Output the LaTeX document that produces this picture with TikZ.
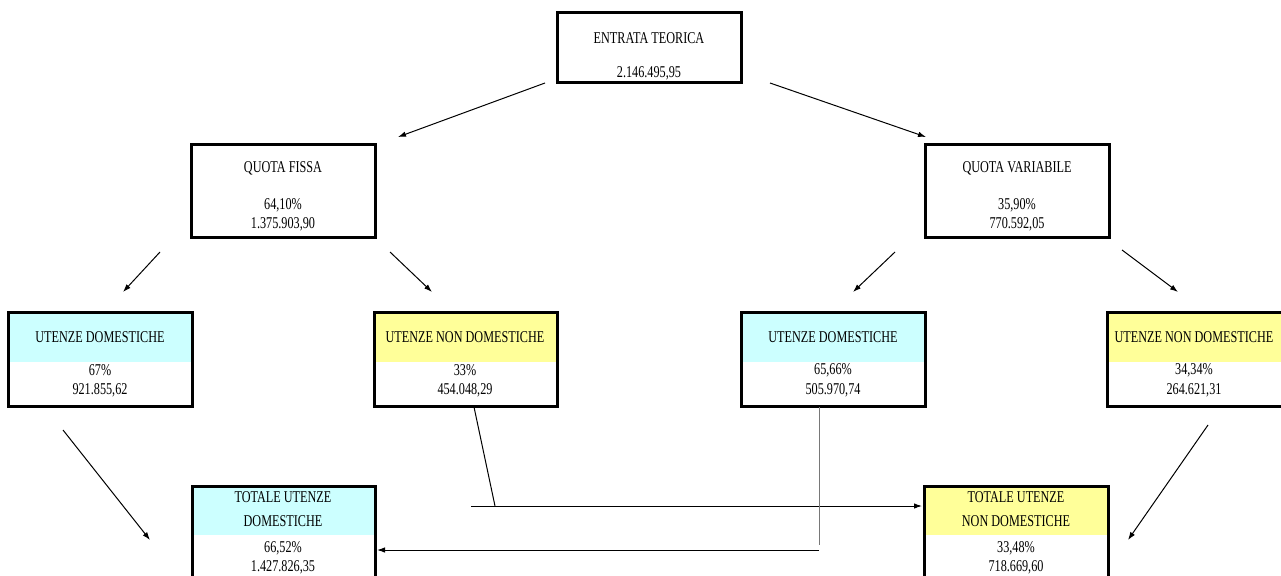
\documentclass[tikz,border=0pt]{standalone}
\usepackage{fontspec}
\setmainfont[FakeStretch=0.74]{Liberation Serif}
\usetikzlibrary{arrows.meta}
\definecolor{cyanbox}{RGB}{204,255,255}
\definecolor{yellowbox}{RGB}{255,255,153}
\definecolor{linegray}{RGB}{120,120,120}
\begin{document}
\begin{tikzpicture}[x=1pt,y=-1pt,
  boxframe/.style={draw=black,line width=3pt,fill=none},
  lbl/.style={inner sep=0pt,font=\fontsize{16.5}{18}\selectfont,anchor=center},
  conn/.style={line width=1pt,-{Latex[length=8pt,width=5.5pt]}},
  plain/.style={line width=1pt}]
\useasboundingbox (0,0) rectangle (1281,575);
\clip (0,0) rectangle (1281,575);
% fills
\fill[cyanbox] (8,312) rectangle (192,362);
\fill[yellowbox] (374,312) rectangle (557,362);
\fill[cyanbox] (741,312) rectangle (925,362);
\fill[yellowbox] (1107,312) rectangle (1295,362);
\fill[cyanbox] (192,486) rectangle (375,535);
\fill[yellowbox] (924,486) rectangle (1108,535);
% frames
\draw[boxframe] (557,13) rectangle (741,83);
\node[inner sep=0pt] (E) at (649,48) {};
\draw[boxframe] (191,144) rectangle (375,237);
\node[inner sep=0pt] (QF) at (283,190) {};
\draw[boxframe] (925,144) rectangle (1109,237);
\node[inner sep=0pt] (QV) at (1017,190) {};
\draw[boxframe] (8,312) rectangle (192,406);
\node[inner sep=0pt] (UD1) at (100,359) {};
\draw[boxframe] (374,312) rectangle (557,406);
\node[inner sep=0pt] (UND1) at (465,359) {};
\draw[boxframe] (741,312) rectangle (925,406);
\node[inner sep=0pt] (UD2) at (833,359) {};
\draw[boxframe] (1107,312) rectangle (1300,406);
\node[inner sep=0pt] (UND2) at (1194,359) {};
\draw[boxframe] (192,486) rectangle (375,600);
\node[inner sep=0pt] (TUD) at (283,530) {};
\draw[boxframe] (924,486) rectangle (1108,600);
\node[inner sep=0pt] (TUND) at (1016,530) {};
% texts
\node[lbl] (e1) at (649,38) {ENTRATA TEORICA};
\node[lbl] (e2) at (649,73) {2.146.495,95};
\node[lbl] (qf1) at (283,168) {QUOTA FISSA};
\node[lbl] (qf2) at (283,205) {64,10\%};
\node[lbl] (qf3) at (283,224) {1.375.903,90};
\node[lbl] (qv1) at (1017,168) {QUOTA VARIABILE};
\node[lbl] (qv2) at (1017,205) {35,90\%};
\node[lbl] (qv3) at (1017,224) {770.592,05};
\node[lbl] (ud11) at (100,337) {UTENZE DOMESTICHE};
\node[lbl] (ud12) at (100,370) {67\%};
\node[lbl] (ud13) at (100,390) {921.855,62};
\node[lbl] (und11) at (465,337) {UTENZE NON DOMESTICHE};
\node[lbl] (und12) at (465,370) {33\%};
\node[lbl] (und13) at (465,390) {454.048,29};
\node[lbl] (ud21) at (833,337) {UTENZE DOMESTICHE};
\node[lbl] (ud22) at (833,370) {65,66\%};
\node[lbl] (ud23) at (833,390) {505.970,74};
\node[lbl] (und21) at (1194,337) {UTENZE NON DOMESTICHE};
\node[lbl] (und22) at (1194,370) {34,34\%};
\node[lbl] (und23) at (1194,390) {264.621,31};
\node[lbl] (tud1) at (283,497) {TOTALE UTENZE};
\node[lbl] (tud2) at (283,521) {DOMESTICHE};
\node[lbl] (tud3) at (283,548) {66,52\%};
\node[lbl] (tud4) at (283,567) {1.427.826,35};
\node[lbl] (tund1) at (1016,497) {TOTALE UTENZE};
\node[lbl] (tund2) at (1016,521) {NON DOMESTICHE};
\node[lbl] (tund3) at (1016,548) {33,48\%};
\node[lbl] (tund4) at (1016,567) {718.669,60};
% connector end points
\coordinate (a1s) at (545,83);  \coordinate (a1e) at (398,137);
\coordinate (a2s) at (770,83);  \coordinate (a2e) at (926,137);
\coordinate (b1s) at (160,252); \coordinate (b1e) at (123,292);
\coordinate (b2s) at (390,252); \coordinate (b2e) at (432,292);
\coordinate (b3s) at (895,252); \coordinate (b3e) at (853,292);
\coordinate (b4s) at (1122,250); \coordinate (b4e) at (1178,292);
\coordinate (c1s) at (63,430);  \coordinate (c1e) at (150,540);
\coordinate (c2s) at (1208,425); \coordinate (c2e) at (1128,540);
\coordinate (d1s) at (474,407); \coordinate (d1m) at (495,506);
\coordinate (d1a) at (471,506); \coordinate (d1e) at (922,506);
\coordinate (d2s) at (819,407); \coordinate (d2m) at (819,545);
\coordinate (d2a) at (819,550); \coordinate (d2e) at (377,550);
% connectors
\draw[conn] (a1s) -- (a1e);
\draw[conn] (a2s) -- (a2e);
\draw[conn] (b1s) -- (b1e);
\draw[conn] (b2s) -- (b2e);
\draw[conn] (b3s) -- (b3e);
\draw[conn] (b4s) -- (b4e);
\draw[conn] (c1s) -- (c1e);
\draw[conn] (c2s) -- (c2e);
\draw[plain] (d1s) -- (d1m);
\draw[conn] (d1a) -- (d1e);
\draw[plain,draw=linegray] (d2s) -- (d2m);
\draw[conn] (d2a) -- (d2e);
\end{tikzpicture}
\end{document}
